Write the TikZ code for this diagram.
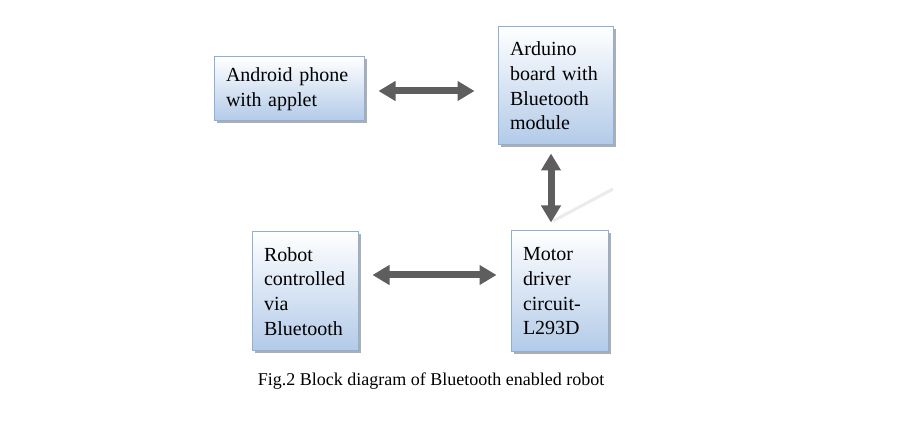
\documentclass[tikz,border=0pt]{standalone}
\usepackage{fontspec}
\setmainfont{Liberation Serif}
\usetikzlibrary{arrows.meta,shadows,calc}
\definecolor{boxborder}{HTML}{8DAFD8}
\definecolor{boxbottom}{HTML}{B2CAE8}
\definecolor{arrowgray}{HTML}{5E5E5E}
\tikzset{
  blockbox/.style={draw=boxborder, line width=1pt, top color=white, bottom color=boxbottom,
    drop shadow={shadow xshift=2.5pt, shadow yshift=-2.5pt, fill=black!45, opacity=0.7},
    align=left, inner xsep=12pt, inner ysep=0pt,
    font=\fontsize{20}{24.7}\selectfont},
  dblarrow/.style={line width=7pt, draw=arrowgray,
    {Triangle[length=17pt,width=19pt]}-{Triangle[length=17pt,width=19pt]}},
  captionstyle/.style={font=\fontsize{18}{22}\selectfont, inner sep=0pt}
}
\begin{document}
\begin{tikzpicture}[x=1pt,y=-1pt]
\useasboundingbox[fill=white] (0,0) rectangle (900,438);
\node[blockbox, text width=126pt, minimum height=64pt] (android) at (289,89) {Android phone\\with applet};
\node[blockbox, text width=91pt, minimum height=118pt] (arduino) at (555.5,86) {Arduino\\board with\\Bluetooth\\module};
\node[blockbox, text width=82pt, minimum height=119pt] (robot) at (305,291.5) {Robot\\controlled\\via\\Bluetooth};
\node[blockbox, text width=73pt, minimum height=121pt] (motor) at (559.5,291.5) {Motor\\driver\\circuit-\\L293D};
\draw[line width=3pt, black!8] (553,221) -- (613,189);
\draw[dblarrow, shorten <=14pt, shorten >=23pt] ($(android.east)+(0,2)$) coordinate (a1) -- (a1 -| arduino.west);
\draw[dblarrow, shorten <=8pt, shorten >=8pt] ($(arduino.south)+(-4.5,0)$) coordinate (a2) -- (a2 |- motor.north);
\draw[dblarrow, shorten <=14pt, shorten >=14pt] ($(robot.east)+(0,-16.5)$) coordinate (a3) -- (a3 -| motor.west);
\node[captionstyle] (caption) at (431,381) {Fig.2 Block diagram of Bluetooth enabled robot};
\end{tikzpicture}
\end{document}
